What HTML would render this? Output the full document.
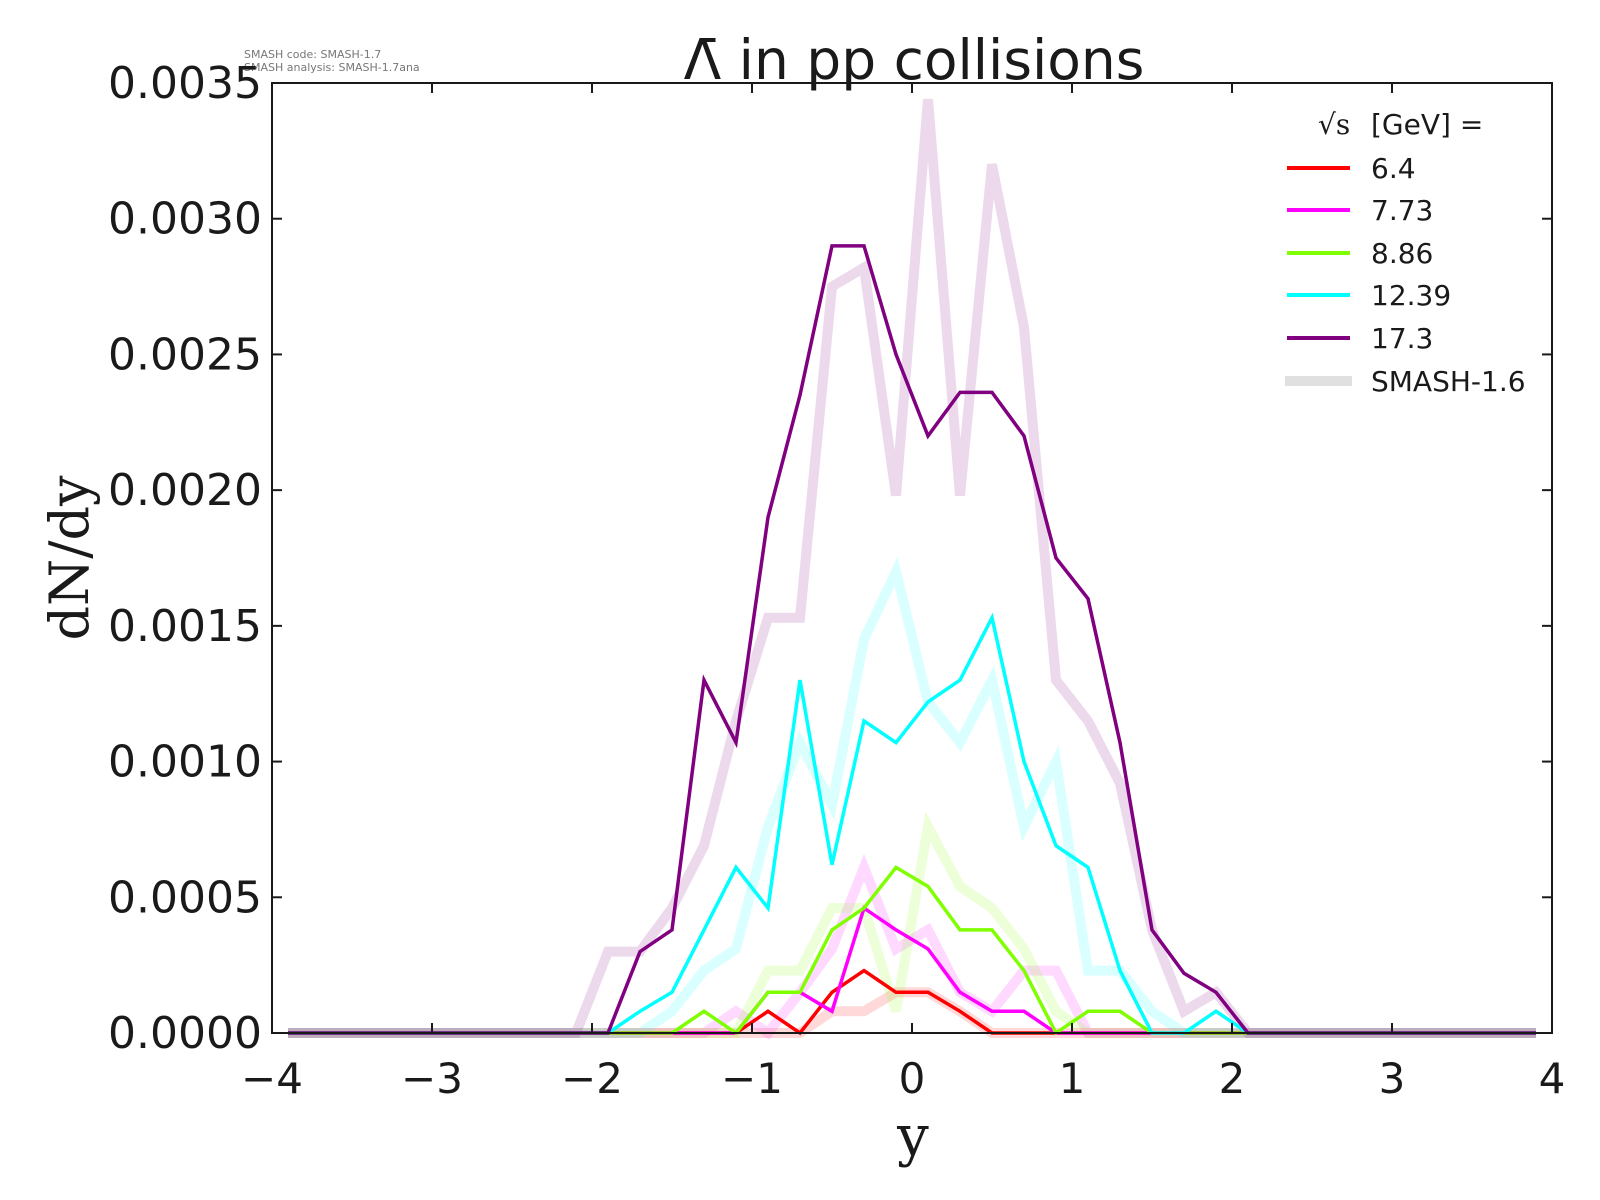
<!DOCTYPE html>
<html><head><meta charset="utf-8"><style>
body{margin:0;background:#fff}
svg{display:block}
text{font-family:"DejaVu Sans","Liberation Sans",sans-serif;fill:#1a1a1a}
</style></head><body>
<svg id="s" width="1600" height="1200" xmlns="http://www.w3.org/2000/svg">
<text x="244" y="58" font-size="11" style="fill:#777">SMASH code:      SMASH-1.7</text>
<text x="244" y="71" font-size="11" style="fill:#777">SMASH analysis: SMASH-1.7ana</text>
<text x="914" y="79" font-size="55" text-anchor="middle">Λ̄ in pp collisions</text>
<g id="plot"></g>
<rect x="272" y="83" width="1280" height="950" fill="none" stroke="#1a1a1a" stroke-width="2"/>
<g id="ticks"></g>
<text x="913" y="1155" font-size="56" text-anchor="middle" style="font-family:'DejaVu Serif','Liberation Serif',serif">y</text>
<text transform="translate(88,558) rotate(-90)" font-size="54" text-anchor="middle" style="font-family:'DejaVu Serif','Liberation Serif',serif">dN/dy</text>
<text x="1318" y="134" font-size="28" style="font-family:'DejaVu Serif','Liberation Serif',serif">√s</text>
<text x="1371" y="134" font-size="28">[GeV] =</text>
<g stroke-width="4">
<line x1="1287" y1="168" x2="1350" y2="168" stroke="#ff0000"/>
<line x1="1287" y1="210" x2="1350" y2="210" stroke="#ff00ff"/>
<line x1="1287" y1="253" x2="1350" y2="253" stroke="#7fff00"/>
<line x1="1287" y1="295" x2="1350" y2="295" stroke="#00ffff"/>
<line x1="1287" y1="338" x2="1350" y2="338" stroke="#800080"/>
<line x1="1285" y1="381" x2="1352" y2="381" stroke="#e0e0e0" stroke-width="10"/>
</g>
<g font-size="28">
<text x="1371" y="178">6.4</text>
<text x="1371" y="220">7.73</text>
<text x="1371" y="263">8.86</text>
<text x="1371" y="305">12.39</text>
<text x="1371" y="348">17.3</text>
<text x="1371" y="391">SMASH-1.6</text>
</g>
</svg>
<script>
var NS="http://www.w3.org/2000/svg";
function X(v){return 272+(v+4)*160}
function Y(v){return 1033-v*271428.6}
function series(pts){var m={};pts.forEach(function(p){m[p[0].toFixed(1)]=p[1]});var a=[];for(var i=0;i<40;i++){var x=-3.9+i*0.2;var k=x.toFixed(1);a.push([x,m[k]!==undefined?m[k]:0]);}return a;}
function line(pts,col,w,op){var p=document.createElementNS(NS,"polyline");p.setAttribute("points",series(pts).map(function(q){return X(q[0]).toFixed(1)+","+Y(q[1]).toFixed(1)}).join(" "));p.setAttribute("fill","none");p.setAttribute("stroke",col);p.setAttribute("stroke-width",w);p.setAttribute("stroke-linejoin","miter");if(op)p.setAttribute("stroke-opacity",op);document.getElementById("plot").appendChild(p);}
var fr=[[-0.5,0.00008],[-0.3,0.00008],[-0.1,0.00015],[0.1,0.00015],[0.3,0.00008]];
var fm=[[-1.1,0.00008],[-0.7,0.00015],[-0.5,0.00031],[-0.3,0.00061],[-0.1,0.00031],[0.1,0.00038],[0.3,0.00015],[0.5,0.00008],[0.7,0.00023],[0.9,0.00023]];
var fg=[[-0.9,0.00023],[-0.7,0.00023],[-0.5,0.00046],[-0.3,0.00046],[-0.1,0.00008],[0.1,0.00076],[0.3,0.00054],[0.5,0.00046],[0.7,0.00031],[0.9,0.00008]];
var fc=[[-1.5,0.00008],[-1.3,0.00023],[-1.1,0.00031],[-0.9,0.00076],[-0.7,0.00107],[-0.5,0.00084],[-0.3,0.00145],[-0.1,0.0017],[0.1,0.00122],[0.3,0.00107],[0.5,0.0013],[0.7,0.00076],[0.9,0.001],[1.1,0.00023],[1.3,0.00023],[1.5,0.00008]];
var fp=[[-1.9,0.0003],[-1.7,0.0003],[-1.5,0.00046],[-1.3,0.00069],[-1.1,0.00115],[-0.9,0.00153],[-0.7,0.00153],[-0.5,0.00275],[-0.3,0.00282],[-0.1,0.00198],[0.1,0.00344],[0.3,0.00198],[0.5,0.0032],[0.7,0.0026],[0.9,0.0013],[1.1,0.00115],[1.3,0.00092],[1.5,0.00038],[1.7,0.00008],[1.9,0.00015]];
line(fr,"#ff0000",10,0.15);line(fm,"#ff00ff",10,0.15);line(fg,"#7fff00",10,0.15);line(fc,"#00ffff",10,0.15);line(fp,"#800080",10,0.15);
var r=[[-0.9,0.00008],[-0.5,0.00015],[-0.3,0.00023],[-0.1,0.00015],[0.1,0.00015],[0.3,0.00008]];
var m=[[-0.9,0.00015],[-0.7,0.00015],[-0.5,0.00008],[-0.3,0.00046],[-0.1,0.00038],[0.1,0.00031],[0.3,0.00015],[0.5,0.00008],[0.7,0.00008]];
var g=[[-1.3,0.00008],[-0.9,0.00015],[-0.7,0.00015],[-0.5,0.00038],[-0.3,0.00046],[-0.1,0.00061],[0.1,0.00054],[0.3,0.00038],[0.5,0.00038],[0.7,0.00023],[1.1,0.00008],[1.3,0.00008]];
var c=[[-1.7,0.00008],[-1.5,0.00015],[-1.3,0.00038],[-1.1,0.00061],[-0.9,0.00046],[-0.7,0.0013],[-0.5,0.00062],[-0.3,0.00115],[-0.1,0.00107],[0.1,0.00122],[0.3,0.0013],[0.5,0.00153],[0.7,0.001],[0.9,0.00069],[1.1,0.00061],[1.3,0.00023],[1.9,0.00008]];
var p=[[-1.7,0.0003],[-1.5,0.00038],[-1.3,0.0013],[-1.1,0.00107],[-0.9,0.0019],[-0.7,0.00235],[-0.5,0.0029],[-0.3,0.0029],[-0.1,0.0025],[0.1,0.0022],[0.3,0.00236],[0.5,0.00236],[0.7,0.0022],[0.9,0.00175],[1.1,0.0016],[1.3,0.00107],[1.5,0.00038],[1.7,0.00022],[1.9,0.00015]];
line(r,"#ff0000",3.5);line(m,"#ff00ff",3.5);line(g,"#7fff00",3.5);line(c,"#00ffff",3.5);line(p,"#800080",3.5);
var t=document.getElementById("ticks"),h="";
for(var i=-4;i<=4;i++){var x=X(i);h+='<line x1="'+x+'" y1="1033" x2="'+x+'" y2="1023" stroke="#1a1a1a" stroke-width="2"/><line x1="'+x+'" y1="83" x2="'+x+'" y2="93" stroke="#1a1a1a" stroke-width="2"/>';h+='<text x="'+x+'" y="1093" font-size="42" text-anchor="middle">'+(i<0?'\u2212'+(-i):i)+'</text>';}
for(var j=0;j<=7;j++){var v=j*0.0005,y=Y(v);h+='<line x1="272" y1="'+y+'" x2="282" y2="'+y+'" stroke="#1a1a1a" stroke-width="2"/><line x1="1552" y1="'+y+'" x2="1542" y2="'+y+'" stroke="#1a1a1a" stroke-width="2"/>';h+='<text x="262" y="'+(y+15)+'" font-size="44" text-anchor="end">'+v.toFixed(4)+'</text>';}
t.innerHTML=h;
</script>
</body></html>
